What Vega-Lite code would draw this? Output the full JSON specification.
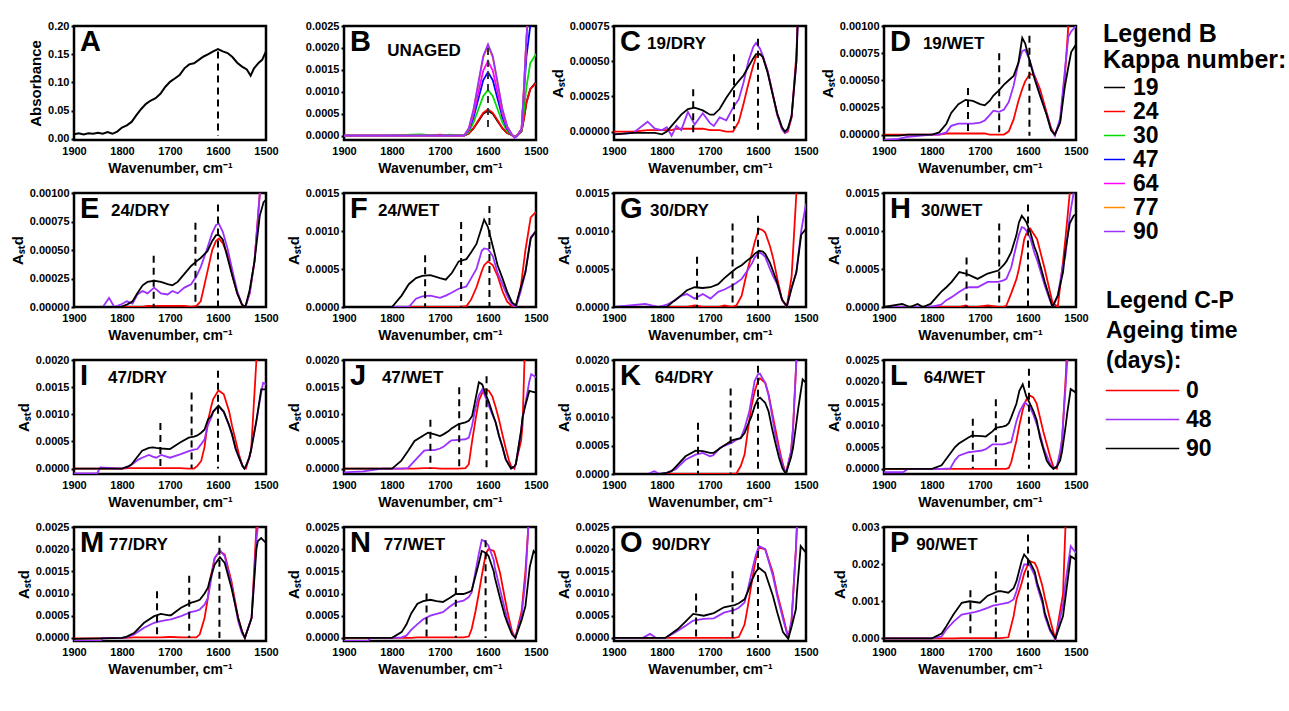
{
"$schema":"https://vega.github.io/schema/vega-lite/v6.json",
"background":"white",
"padding":{"left":8,"top":18,"right":0,"bottom":0},
"spacing":{"row":53,"column":78},
"bounds":"flush",
"columns":4,
"datasets":{
"a":[{"w":1900,"v":0.008},{"w":1890,"v":0.010},{"w":1880,"v":0.008},{"w":1870,"v":0.010},{"w":1860,"v":0.009},{"w":1850,"v":0.011},{"w":1840,"v":0.009},{"w":1830,"v":0.012},{"w":1820,"v":0.009},{"w":1810,"v":0.013},{"w":1800,"v":0.02},{"w":1790,"v":0.024},{"w":1780,"v":0.03},{"w":1770,"v":0.042},{"w":1760,"v":0.053},{"w":1750,"v":0.062},{"w":1740,"v":0.068},{"w":1730,"v":0.072},{"w":1720,"v":0.08},{"w":1710,"v":0.092},{"w":1700,"v":0.101},{"w":1690,"v":0.107},{"w":1680,"v":0.113},{"w":1670,"v":0.125},{"w":1660,"v":0.132},{"w":1650,"v":0.134},{"w":1640,"v":0.14},{"w":1630,"v":0.146},{"w":1620,"v":0.15},{"w":1610,"v":0.155},{"w":1600,"v":0.159},{"w":1590,"v":0.155},{"w":1580,"v":0.152},{"w":1570,"v":0.145},{"w":1560,"v":0.135},{"w":1550,"v":0.128},{"w":1540,"v":0.123},{"w":1532,"v":0.112},{"w":1525,"v":0.125},{"w":1515,"v":0.135},{"w":1508,"v":0.14},{"w":1500,"v":0.155}],
"b":[
{"w":1900,"19":0,"24":0,"30":0,"47":0,"64":0,"77":0,"90":0},
{"w":1850,"19":0,"24":0,"30":0,"47":0,"64":0,"77":0,"90":0},
{"w":1800,"19":0,"24":0,"30":0,"47":0,"64":0,"77":0,"90":0},
{"w":1760,"19":0,"24":0,"30":2e-5,"47":0,"64":0,"77":0,"90":0},
{"w":1740,"19":0,"24":1e-5,"30":3e-5,"47":0,"64":0,"77":0,"90":0},
{"w":1720,"19":0,"24":0,"30":1e-5,"47":0,"64":0,"77":0,"90":0},
{"w":1700,"19":0,"24":2e-5,"30":0,"47":0,"64":0,"77":0,"90":0},
{"w":1680,"19":0,"24":0,"30":2e-5,"47":0,"64":0,"77":0,"90":0},
{"w":1650,"19":0,"24":0,"30":0,"47":0,"64":0,"77":0,"90":0},
{"w":1640,"19":5e-5,"24":5e-5,"30":8e-5,"47":12e-5,"64":14e-5,"77":16e-5,"90":17e-5},
{"w":1630,"19":17e-5,"24":17e-5,"30":30e-5,"47":42e-5,"64":49e-5,"77":59e-5,"90":60e-5},
{"w":1620,"19":33e-5,"24":35e-5,"30":60e-5,"47":84e-5,"64":99e-5,"77":119e-5,"90":121e-5},
{"w":1610,"19":50e-5,"24":52e-5,"30":90e-5,"47":126e-5,"64":148e-5,"77":178e-5,"90":181e-5},
{"w":1600,"19":57e-5,"24":60e-5,"30":104e-5,"47":145e-5,"64":170e-5,"77":205e-5,"90":208e-5},
{"w":1590,"19":50e-5,"24":52e-5,"30":90e-5,"47":126e-5,"64":148e-5,"77":178e-5,"90":181e-5},
{"w":1580,"19":33e-5,"24":35e-5,"30":60e-5,"47":84e-5,"64":99e-5,"77":119e-5,"90":121e-5},
{"w":1570,"19":17e-5,"24":17e-5,"30":30e-5,"47":42e-5,"64":49e-5,"77":59e-5,"90":60e-5},
{"w":1560,"19":6e-5,"24":6e-5,"30":10e-5,"47":15e-5,"64":17e-5,"77":21e-5,"90":21e-5},
{"w":1550,"19":1e-5,"24":1e-5,"30":1e-5,"47":1e-5,"64":2e-5,"77":2e-5,"90":2e-5},
{"w":1545,"19":-3e-5,"24":-2e-5,"30":-3e-5,"47":-3e-5,"64":-3e-5,"77":-4e-5,"90":-5e-5},
{"w":1540,"19":0,"24":0,"30":0,"47":-1e-5,"64":-1e-5,"77":-1e-5,"90":-2e-5},
{"w":1530,"19":10e-5,"24":10e-5,"30":12e-5,"47":15e-5,"64":15e-5,"77":15e-5,"90":15e-5},
{"w":1525,"19":40e-5,"24":40e-5,"30":60e-5,"47":100e-5,"64":110e-5,"77":110e-5,"90":110e-5},
{"w":1520,"19":75e-5,"24":75e-5,"30":110e-5,"47":180e-5,"64":220e-5,"77":220e-5,"90":220e-5},
{"w":1512,"19":106e-5,"24":106e-5,"30":165e-5,"47":250e-5,"64":350e-5,"77":350e-5,"90":350e-5},
{"w":1500,"19":122e-5,"24":120e-5,"30":186e-5,"47":400e-5,"64":500e-5,"77":500e-5,"90":500e-5}],
"s":[
{"p":"C","w":1900,"0":0,"48":-2e-5,"90":-2e-5},{"p":"C","w":1860,"0":0,"48":-1e-5,"90":-1e-5},{"p":"C","w":1830,"0":1e-5,"48":7e-5,"90":-1e-5},{"p":"C","w":1815,"0":1e-5,"48":2e-5,"90":-1e-5},{"p":"C","w":1800,"0":1e-5,"48":1e-5,"90":-2e-5},{"p":"C","w":1790,"0":1e-5,"48":3e-5,"90":0},{"p":"C","w":1780,"0":1e-5,"48":-3e-5,"90":4e-5},{"p":"C","w":1770,"0":2e-5,"48":4e-5,"90":8e-5},{"p":"C","w":1760,"0":2e-5,"48":1e-5,"90":12e-5},{"p":"C","w":1746,"0":2e-5,"48":14e-5,"90":16e-5},{"p":"C","w":1732,"0":2e-5,"48":5e-5,"90":17e-5},{"p":"C","w":1715,"0":2e-5,"48":13e-5,"90":15e-5},{"p":"C","w":1700,"0":1e-5,"48":6e-5,"90":12e-5},{"p":"C","w":1692,"0":1e-5,"48":4e-5,"90":12e-5},{"p":"C","w":1680,"0":1e-5,"48":10e-5,"90":16e-5},{"p":"C","w":1666,"0":0,"48":8e-5,"90":24e-5},{"p":"C","w":1652,"0":0,"48":17e-5,"90":31e-5},{"p":"C","w":1640,"0":7e-5,"48":23e-5,"90":36e-5},{"p":"C","w":1630,"0":20e-5,"48":35e-5,"90":40e-5},{"p":"C","w":1620,"0":34e-5,"48":50e-5,"90":46e-5},{"p":"C","w":1610,"0":47e-5,"48":60e-5,"90":52e-5},{"p":"C","w":1604,"0":53e-5,"48":63e-5,"90":55e-5},{"p":"C","w":1596,"0":55e-5,"48":59e-5,"90":55e-5},{"p":"C","w":1590,"0":53e-5,"48":54e-5,"90":53e-5},{"p":"C","w":1580,"0":43e-5,"48":43e-5,"90":42e-5},{"p":"C","w":1570,"0":28e-5,"48":28e-5,"90":27e-5},{"p":"C","w":1560,"0":12e-5,"48":12e-5,"90":13e-5},{"p":"C","w":1550,"0":2e-5,"48":2e-5,"90":3e-5},{"p":"C","w":1544,"0":-1e-5,"48":-1e-5,"90":0},{"p":"C","w":1538,"0":0,"48":1e-5,"90":2e-5},{"p":"C","w":1530,"0":10e-5,"48":11e-5,"90":11e-5},{"p":"C","w":1520,"0":55e-5,"48":50e-5,"90":50e-5},{"p":"C","w":1510,"0":150e-5,"48":150e-5,"90":150e-5},{"p":"C","w":1500,"0":300e-5,"48":300e-5,"90":300e-5},
{"p":"D","w":1900,"0":0,"48":-5e-5,"90":-1e-5},{"p":"D","w":1870,"0":0,"48":-4e-5,"90":-1e-5},{"p":"D","w":1850,"0":0,"48":-2e-5,"90":0},{"p":"D","w":1800,"0":0,"48":0,"90":0},{"p":"D","w":1785,"0":0,"48":0,"90":2e-5},{"p":"D","w":1770,"0":1e-5,"48":2e-5,"90":10e-5},{"p":"D","w":1760,"0":1e-5,"48":8e-5,"90":20e-5},{"p":"D","w":1745,"0":1e-5,"48":10e-5,"90":28e-5},{"p":"D","w":1730,"0":1e-5,"48":10e-5,"90":32e-5},{"p":"D","w":1715,"0":1e-5,"48":10e-5,"90":31e-5},{"p":"D","w":1700,"0":1e-5,"48":11e-5,"90":28e-5},{"p":"D","w":1690,"0":1e-5,"48":13e-5,"90":27e-5},{"p":"D","w":1680,"0":0,"48":18e-5,"90":31e-5},{"p":"D","w":1672,"0":0,"48":22e-5,"90":36e-5},{"p":"D","w":1660,"0":0,"48":21e-5,"90":41e-5},{"p":"D","w":1650,"0":0,"48":23e-5,"90":46e-5},{"p":"D","w":1640,"0":3e-5,"48":30e-5,"90":50e-5},{"p":"D","w":1630,"0":14e-5,"48":45e-5,"90":54e-5},{"p":"D","w":1620,"0":31e-5,"48":66e-5,"90":66e-5},{"p":"D","w":1612,"0":42e-5,"48":77e-5,"90":89e-5},{"p":"D","w":1606,"0":49e-5,"48":78e-5,"90":84e-5},{"p":"D","w":1596,"0":56e-5,"48":68e-5,"90":67e-5},{"p":"D","w":1586,"0":54e-5,"48":53e-5,"90":51e-5},{"p":"D","w":1575,"0":42e-5,"48":37e-5,"90":36e-5},{"p":"D","w":1561,"0":20e-5,"48":18e-5,"90":18e-5},{"p":"D","w":1552,"0":6e-5,"48":5e-5,"90":4e-5},{"p":"D","w":1544,"0":0,"48":-1e-5,"90":0},{"p":"D","w":1533,"0":12e-5,"48":15e-5,"90":11e-5},{"p":"D","w":1523,"0":55e-5,"48":60e-5,"90":45e-5},{"p":"D","w":1516,"0":100e-5,"48":90e-5,"90":62e-5},{"p":"D","w":1510,"0":200e-5,"48":95e-5,"90":76e-5},{"p":"D","w":1500,"0":400e-5,"48":100e-5,"90":83e-5},
{"p":"E","w":1900,"0":0,"48":0,"90":0},{"p":"E","w":1840,"0":0,"48":0,"90":0},{"p":"E","w":1827,"0":0,"48":8e-5,"90":0},{"p":"E","w":1816,"0":0,"48":0,"90":0},{"p":"E","w":1803,"0":0,"48":2e-5,"90":0},{"p":"E","w":1790,"0":0,"48":5e-5,"90":2e-5},{"p":"E","w":1778,"0":0,"48":3e-5,"90":5e-5},{"p":"E","w":1768,"0":0,"48":11e-5,"90":12e-5},{"p":"E","w":1757,"0":0,"48":14e-5,"90":19e-5},{"p":"E","w":1747,"0":1e-5,"48":12e-5,"90":22e-5},{"p":"E","w":1733,"0":1e-5,"48":17e-5,"90":23e-5},{"p":"E","w":1719,"0":1e-5,"48":12e-5,"90":22e-5},{"p":"E","w":1705,"0":1e-5,"48":11e-5,"90":20e-5},{"p":"E","w":1695,"0":1e-5,"48":14e-5,"90":19e-5},{"p":"E","w":1684,"0":1e-5,"48":12e-5,"90":22e-5},{"p":"E","w":1670,"0":1e-5,"48":17e-5,"90":29e-5},{"p":"E","w":1656,"0":0,"48":20e-5,"90":36e-5},{"p":"E","w":1645,"0":1e-5,"48":27e-5,"90":40e-5},{"p":"E","w":1636,"0":5e-5,"48":35e-5,"90":43e-5},{"p":"E","w":1622,"0":31e-5,"48":52e-5,"90":49e-5},{"p":"E","w":1612,"0":50e-5,"48":65e-5,"90":58e-5},{"p":"E","w":1604,"0":58e-5,"48":72e-5,"90":63e-5},{"p":"E","w":1598,"0":60e-5,"48":73e-5,"90":63e-5},{"p":"E","w":1590,"0":56e-5,"48":66e-5,"90":59e-5},{"p":"E","w":1580,"0":46e-5,"48":51e-5,"90":43e-5},{"p":"E","w":1570,"0":28e-5,"48":32e-5,"90":27e-5},{"p":"E","w":1560,"0":12e-5,"48":14e-5,"90":12e-5},{"p":"E","w":1550,"0":2e-5,"48":2e-5,"90":2e-5},{"p":"E","w":1543,"0":0,"48":0,"90":0},{"p":"E","w":1534,"0":12e-5,"48":12e-5,"90":15e-5},{"p":"E","w":1524,"0":40e-5,"48":40e-5,"90":40e-5},{"p":"E","w":1513,"0":99e-5,"48":99e-5,"90":80e-5},{"p":"E","w":1505,"0":200e-5,"48":200e-5,"90":92e-5},{"p":"E","w":1500,"0":300e-5,"48":300e-5,"90":94e-5},
{"p":"F","w":1900,"0":0,"48":0,"90":0},{"p":"F","w":1850,"0":0,"48":0,"90":0},{"p":"F","w":1800,"0":0,"48":0,"90":0},{"p":"F","w":1780,"0":0,"48":0,"90":15e-5},{"p":"F","w":1765,"0":0,"48":0,"90":30e-5},{"p":"F","w":1750,"0":0,"48":11e-5,"90":38e-5},{"p":"F","w":1737,"0":0,"48":14e-5,"90":41e-5},{"p":"F","w":1720,"0":0,"48":15e-5,"90":42e-5},{"p":"F","w":1700,"0":0,"48":12e-5,"90":38e-5},{"p":"F","w":1688,"0":0,"48":15e-5,"90":36e-5},{"p":"F","w":1675,"0":0,"48":19e-5,"90":45e-5},{"p":"F","w":1661,"0":0,"48":24e-5,"90":60e-5},{"p":"F","w":1645,"0":1e-5,"48":27e-5,"90":63e-5},{"p":"F","w":1635,"0":10e-5,"48":38e-5,"90":72e-5},{"p":"F","w":1624,"0":26e-5,"48":50e-5,"90":83e-5},{"p":"F","w":1613,"0":47e-5,"48":74e-5,"90":105e-5},{"p":"F","w":1608,"0":55e-5,"48":77e-5,"90":115e-5},{"p":"F","w":1600,"0":60e-5,"48":76e-5,"90":105e-5},{"p":"F","w":1590,"0":55e-5,"48":67e-5,"90":80e-5},{"p":"F","w":1580,"0":41e-5,"48":45e-5,"90":55e-5},{"p":"F","w":1570,"0":21e-5,"48":30e-5,"90":38e-5},{"p":"F","w":1560,"0":7e-5,"48":15e-5,"90":20e-5},{"p":"F","w":1550,"0":1e-5,"48":3e-5,"90":6e-5},{"p":"F","w":1542,"0":0,"48":0,"90":2e-5},{"p":"F","w":1532,"0":25e-5,"48":20e-5,"90":25e-5},{"p":"F","w":1522,"0":75e-5,"48":46e-5,"90":46e-5},{"p":"F","w":1511,"0":118e-5,"48":92e-5,"90":90e-5},{"p":"F","w":1500,"0":125e-5,"48":100e-5,"90":100e-5},
{"p":"G","w":1900,"0":0,"48":0,"90":0},{"p":"G","w":1867,"0":0,"48":2e-5,"90":0},{"p":"G","w":1835,"0":0,"48":4e-5,"90":0},{"p":"G","w":1808,"0":0,"48":0,"90":0},{"p":"G","w":1790,"0":0,"48":3e-5,"90":0},{"p":"G","w":1775,"0":0,"48":8e-5,"90":8e-5},{"p":"G","w":1759,"0":0,"48":15e-5,"90":16e-5},{"p":"G","w":1748,"0":0,"48":17e-5,"90":22e-5},{"p":"G","w":1732,"0":2e-5,"48":11e-5,"90":26e-5},{"p":"G","w":1715,"0":0,"48":17e-5,"90":25e-5},{"p":"G","w":1699,"0":0,"48":11e-5,"90":26e-5},{"p":"G","w":1683,"0":0,"48":20e-5,"90":30e-5},{"p":"G","w":1670,"0":2e-5,"48":23e-5,"90":38e-5},{"p":"G","w":1655,"0":0,"48":28e-5,"90":46e-5},{"p":"G","w":1645,"0":2e-5,"48":32e-5,"90":51e-5},{"p":"G","w":1634,"0":15e-5,"48":37e-5,"90":55e-5},{"p":"G","w":1623,"0":46e-5,"48":47e-5,"90":61e-5},{"p":"G","w":1612,"0":72e-5,"48":58e-5,"90":66e-5},{"p":"G","w":1607,"0":85e-5,"48":65e-5,"90":70e-5},{"p":"G","w":1598,"0":103e-5,"48":72e-5,"90":74e-5},{"p":"G","w":1590,"0":101e-5,"48":69e-5,"90":73e-5},{"p":"G","w":1585,"0":98e-5,"48":66e-5,"90":70e-5},{"p":"G","w":1575,"0":80e-5,"48":50e-5,"90":58e-5},{"p":"G","w":1568,"0":63e-5,"48":40e-5,"90":46e-5},{"p":"G","w":1560,"0":38e-5,"48":30e-5,"90":32e-5},{"p":"G","w":1550,"0":9e-5,"48":10e-5,"90":10e-5},{"p":"G","w":1540,"0":0,"48":0,"90":1e-5},{"p":"G","w":1530,"0":40e-5,"48":25e-5,"90":25e-5},{"p":"G","w":1520,"0":150e-5,"48":46e-5,"90":46e-5},{"p":"G","w":1510,"0":300e-5,"48":100e-5,"90":95e-5},{"p":"G","w":1500,"0":400e-5,"48":136e-5,"90":103e-5},
{"p":"H","w":1900,"0":0,"48":0,"90":0},{"p":"H","w":1862,"0":0,"48":0,"90":4e-5},{"p":"H","w":1846,"0":0,"48":0,"90":0},{"p":"H","w":1830,"0":0,"48":0,"90":4e-5},{"p":"H","w":1819,"0":0,"48":0,"90":0},{"p":"H","w":1803,"0":0,"48":0,"90":4e-5},{"p":"H","w":1781,"0":0,"48":3e-5,"90":20e-5},{"p":"H","w":1770,"0":0,"48":9e-5,"90":26e-5},{"p":"H","w":1759,"0":0,"48":13e-5,"90":33e-5},{"p":"H","w":1743,"0":0,"48":20e-5,"90":46e-5},{"p":"H","w":1730,"0":2e-5,"48":25e-5,"90":44e-5},{"p":"H","w":1722,"0":0,"48":26e-5,"90":42e-5},{"p":"H","w":1705,"0":0,"48":26e-5,"90":37e-5},{"p":"H","w":1684,"0":2e-5,"48":33e-5,"90":44e-5},{"p":"H","w":1662,"0":0,"48":33e-5,"90":48e-5},{"p":"H","w":1651,"0":0,"48":35e-5,"90":55e-5},{"p":"H","w":1645,"0":2e-5,"48":37e-5,"90":60e-5},{"p":"H","w":1635,"0":18e-5,"48":52e-5,"90":72e-5},{"p":"H","w":1624,"0":37e-5,"48":82e-5,"90":95e-5},{"p":"H","w":1619,"0":50e-5,"48":95e-5,"90":111e-5},{"p":"H","w":1613,"0":70e-5,"48":105e-5,"90":120e-5},{"p":"H","w":1608,"0":89e-5,"48":104e-5,"90":116e-5},{"p":"H","w":1603,"0":97e-5,"48":100e-5,"90":111e-5},{"p":"H","w":1595,"0":103e-5,"48":90e-5,"90":98e-5},{"p":"H","w":1587,"0":95e-5,"48":72e-5,"90":80e-5},{"p":"H","w":1581,"0":89e-5,"48":62e-5,"90":70e-5},{"p":"H","w":1565,"0":50e-5,"48":28e-5,"90":33e-5},{"p":"H","w":1556,"0":25e-5,"48":12e-5,"90":14e-5},{"p":"H","w":1549,"0":6e-5,"48":0,"90":0},{"p":"H","w":1538,"0":0,"48":15e-5,"90":15e-5},{"p":"H","w":1527,"0":60e-5,"48":55e-5,"90":46e-5},{"p":"H","w":1522,"0":90e-5,"48":68e-5,"90":75e-5},{"p":"H","w":1513,"0":150e-5,"48":120e-5,"90":110e-5},{"p":"H","w":1505,"0":250e-5,"48":150e-5,"90":120e-5},{"p":"H","w":1500,"0":300e-5,"48":170e-5,"90":122e-5},
{"p":"I","w":1900,"0":0,"48":-9e-5,"90":0},{"p":"I","w":1852,"0":0,"48":-9e-5,"90":0},{"p":"I","w":1845,"0":0,"48":2e-5,"90":0},{"p":"I","w":1800,"0":0,"48":0,"90":0},{"p":"I","w":1787,"0":1e-5,"48":3e-5,"90":4e-5},{"p":"I","w":1780,"0":1e-5,"48":7e-5,"90":8e-5},{"p":"I","w":1765,"0":1e-5,"48":17e-5,"90":25e-5},{"p":"I","w":1758,"0":1e-5,"48":20e-5,"90":33e-5},{"p":"I","w":1744,"0":1e-5,"48":25e-5,"90":38e-5},{"p":"I","w":1736,"0":1e-5,"48":22e-5,"90":39e-5},{"p":"I","w":1729,"0":1e-5,"48":20e-5,"90":38e-5},{"p":"I","w":1718,"0":1e-5,"48":25e-5,"90":37e-5},{"p":"I","w":1700,"0":1e-5,"48":20e-5,"90":36e-5},{"p":"I","w":1679,"0":1e-5,"48":26e-5,"90":48e-5},{"p":"I","w":1661,"0":0,"48":32e-5,"90":57e-5},{"p":"I","w":1650,"0":0,"48":35e-5,"90":59e-5},{"p":"I","w":1643,"0":5e-5,"48":36e-5,"90":61e-5},{"p":"I","w":1635,"0":14e-5,"48":45e-5,"90":66e-5},{"p":"I","w":1628,"0":40e-5,"48":54e-5,"90":72e-5},{"p":"I","w":1621,"0":88e-5,"48":80e-5,"90":90e-5},{"p":"I","w":1614,"0":115e-5,"48":94e-5,"90":97e-5},{"p":"I","w":1610,"0":128e-5,"48":105e-5,"90":105e-5},{"p":"I","w":1599,"0":144e-5,"48":115e-5,"90":116e-5},{"p":"I","w":1588,"0":137e-5,"48":104e-5,"90":105e-5},{"p":"I","w":1577,"0":106e-5,"48":80e-5,"90":80e-5},{"p":"I","w":1571,"0":80e-5,"48":63e-5,"90":64e-5},{"p":"I","w":1563,"0":51e-5,"48":35e-5,"90":36e-5},{"p":"I","w":1556,"0":25e-5,"48":20e-5,"90":20e-5},{"p":"I","w":1549,"0":5e-5,"48":5e-5,"90":5e-5},{"p":"I","w":1545,"0":1e-5,"48":0,"90":0},{"p":"I","w":1542,"0":0,"48":4e-5,"90":4e-5},{"p":"I","w":1535,"0":20e-5,"48":20e-5,"90":20e-5},{"p":"I","w":1531,"0":33e-5,"48":35e-5,"90":35e-5},{"p":"I","w":1520,"0":200e-5,"48":88e-5,"90":88e-5},{"p":"I","w":1510,"0":400e-5,"48":140e-5,"90":146e-5},{"p":"I","w":1506,"0":500e-5,"48":158e-5,"90":146e-5},{"p":"I","w":1500,"0":600e-5,"48":155e-5,"90":146e-5},
{"p":"J","w":1900,"0":0,"48":-7e-5,"90":0},{"p":"J","w":1860,"0":0,"48":-5e-5,"90":0},{"p":"J","w":1820,"0":0,"48":0,"90":0},{"p":"J","w":1800,"0":0,"48":0,"90":0},{"p":"J","w":1781,"0":0,"48":0,"90":14e-5},{"p":"J","w":1767,"0":0,"48":1e-5,"90":32e-5},{"p":"J","w":1753,"0":0,"48":14e-5,"90":51e-5},{"p":"J","w":1733,"0":1e-5,"48":33e-5,"90":62e-5},{"p":"J","w":1725,"0":1e-5,"48":34e-5,"90":66e-5},{"p":"J","w":1711,"0":1e-5,"48":34e-5,"90":63e-5},{"p":"J","w":1700,"0":0,"48":37e-5,"90":60e-5},{"p":"J","w":1693,"0":0,"48":40e-5,"90":63e-5},{"p":"J","w":1682,"0":0,"48":48e-5,"90":69e-5},{"p":"J","w":1676,"0":0,"48":52e-5,"90":74e-5},{"p":"J","w":1661,"0":0,"48":53e-5,"90":82e-5},{"p":"J","w":1647,"0":1e-5,"48":54e-5,"90":85e-5},{"p":"J","w":1640,"0":8e-5,"48":57e-5,"90":88e-5},{"p":"J","w":1633,"0":51e-5,"48":80e-5,"90":97e-5},{"p":"J","w":1626,"0":90e-5,"48":112e-5,"90":128e-5},{"p":"J","w":1619,"0":125e-5,"48":135e-5,"90":159e-5},{"p":"J","w":1612,"0":140e-5,"48":146e-5,"90":155e-5},{"p":"J","w":1605,"0":146e-5,"48":131e-5,"90":137e-5},{"p":"J","w":1598,"0":143e-5,"48":115e-5,"90":122e-5},{"p":"J","w":1591,"0":133e-5,"48":100e-5,"90":103e-5},{"p":"J","w":1584,"0":113e-5,"48":85e-5,"90":85e-5},{"p":"J","w":1577,"0":90e-5,"48":60e-5,"90":60e-5},{"p":"J","w":1570,"0":63e-5,"48":40e-5,"90":40e-5},{"p":"J","w":1563,"0":37e-5,"48":17e-5,"90":17e-5},{"p":"J","w":1556,"0":14e-5,"48":6e-5,"90":6e-5},{"p":"J","w":1552,"0":5e-5,"48":0,"90":0},{"p":"J","w":1545,"0":0,"48":3e-5,"90":4e-5},{"p":"J","w":1542,"0":10e-5,"48":8e-5,"90":8e-5},{"p":"J","w":1531,"0":51e-5,"48":70e-5,"90":70e-5},{"p":"J","w":1528,"0":80e-5,"48":94e-5,"90":94e-5},{"p":"J","w":1524,"0":200e-5,"48":110e-5,"90":110e-5},{"p":"J","w":1514,"0":400e-5,"48":160e-5,"90":143e-5},{"p":"J","w":1510,"0":500e-5,"48":174e-5,"90":142e-5},{"p":"J","w":1500,"0":600e-5,"48":168e-5,"90":140e-5},
{"p":"K","w":1900,"0":0,"48":0,"90":0},{"p":"K","w":1830,"0":0,"48":0,"90":0},{"p":"K","w":1816,"0":0,"48":5e-5,"90":0},{"p":"K","w":1805,"0":0,"48":0,"90":0},{"p":"K","w":1790,"0":0,"48":2e-5,"90":2e-5},{"p":"K","w":1780,"0":0,"48":6e-5,"90":5e-5},{"p":"K","w":1772,"0":0,"48":8e-5,"90":12e-5},{"p":"K","w":1751,"0":0,"48":25e-5,"90":31e-5},{"p":"K","w":1730,"0":0,"48":34e-5,"90":41e-5},{"p":"K","w":1715,"0":0,"48":37e-5,"90":40e-5},{"p":"K","w":1700,"0":0,"48":31e-5,"90":37e-5},{"p":"K","w":1693,"0":0,"48":33e-5,"90":37e-5},{"p":"K","w":1679,"0":0,"48":46e-5,"90":45e-5},{"p":"K","w":1672,"0":0,"48":49e-5,"90":49e-5},{"p":"K","w":1654,"0":0,"48":55e-5,"90":59e-5},{"p":"K","w":1645,"0":1e-5,"48":60e-5,"90":61e-5},{"p":"K","w":1636,"0":14e-5,"48":63e-5,"90":63e-5},{"p":"K","w":1628,"0":34e-5,"48":80e-5,"90":72e-5},{"p":"K","w":1618,"0":95e-5,"48":110e-5,"90":93e-5},{"p":"K","w":1614,"0":117e-5,"48":130e-5,"90":100e-5},{"p":"K","w":1607,"0":145e-5,"48":163e-5,"90":119e-5},{"p":"K","w":1600,"0":163e-5,"48":175e-5,"90":132e-5},{"p":"K","w":1596,"0":168e-5,"48":176e-5,"90":134e-5},{"p":"K","w":1585,"0":160e-5,"48":160e-5,"90":125e-5},{"p":"K","w":1578,"0":140e-5,"48":138e-5,"90":110e-5},{"p":"K","w":1571,"0":110e-5,"48":104e-5,"90":81e-5},{"p":"K","w":1564,"0":80e-5,"48":70e-5,"90":55e-5},{"p":"K","w":1556,"0":46e-5,"48":40e-5,"90":28e-5},{"p":"K","w":1549,"0":20e-5,"48":16e-5,"90":10e-5},{"p":"K","w":1542,"0":0,"48":0,"90":0},{"p":"K","w":1531,"0":40e-5,"48":40e-5,"90":30e-5},{"p":"K","w":1527,"0":80e-5,"48":80e-5,"90":46e-5},{"p":"K","w":1520,"0":200e-5,"48":200e-5,"90":90e-5},{"p":"K","w":1516,"0":300e-5,"48":300e-5,"90":116e-5},{"p":"K","w":1507,"0":400e-5,"48":400e-5,"90":166e-5},{"p":"K","w":1500,"0":500e-5,"48":500e-5,"90":160e-5},
{"p":"L","w":1900,"0":0,"48":-8e-5,"90":0},{"p":"L","w":1860,"0":0,"48":-8e-5,"90":0},{"p":"L","w":1850,"0":0,"48":0,"90":0},{"p":"L","w":1800,"0":0,"48":0,"90":0},{"p":"L","w":1780,"0":0,"48":0,"90":8e-5},{"p":"L","w":1762,"0":0,"48":1e-5,"90":35e-5},{"p":"L","w":1752,"0":0,"48":20e-5,"90":50e-5},{"p":"L","w":1744,"0":0,"48":30e-5,"90":58e-5},{"p":"L","w":1724,"0":0,"48":38e-5,"90":72e-5},{"p":"L","w":1717,"0":0,"48":39e-5,"90":76e-5},{"p":"L","w":1696,"0":0,"48":42e-5,"90":75e-5},{"p":"L","w":1688,"0":0,"48":45e-5,"90":74e-5},{"p":"L","w":1674,"0":0,"48":56e-5,"90":86e-5},{"p":"L","w":1667,"0":0,"48":56e-5,"90":94e-5},{"p":"L","w":1653,"0":0,"48":56e-5,"90":97e-5},{"p":"L","w":1646,"0":0,"48":58e-5,"90":99e-5},{"p":"L","w":1640,"0":2e-5,"48":60e-5,"90":105e-5},{"p":"L","w":1635,"0":15e-5,"48":61e-5,"90":118e-5},{"p":"L","w":1624,"0":65e-5,"48":110e-5,"90":150e-5},{"p":"L","w":1618,"0":100e-5,"48":130e-5,"90":179e-5},{"p":"L","w":1611,"0":135e-5,"48":145e-5,"90":194e-5},{"p":"L","w":1607,"0":150e-5,"48":152e-5,"90":180e-5},{"p":"L","w":1604,"0":158e-5,"48":150e-5,"90":168e-5},{"p":"L","w":1596,"0":168e-5,"48":141e-5,"90":150e-5},{"p":"L","w":1589,"0":164e-5,"48":125e-5,"90":133e-5},{"p":"L","w":1582,"0":150e-5,"48":103e-5,"90":112e-5},{"p":"L","w":1575,"0":118e-5,"48":80e-5,"90":72e-5},{"p":"L","w":1568,"0":85e-5,"48":50e-5,"90":45e-5},{"p":"L","w":1561,"0":57e-5,"48":30e-5,"90":19e-5},{"p":"L","w":1554,"0":28e-5,"48":12e-5,"90":7e-5},{"p":"L","w":1547,"0":4e-5,"48":0,"90":0},{"p":"L","w":1540,"0":0,"48":5e-5,"90":5e-5},{"p":"L","w":1533,"0":35e-5,"48":40e-5,"90":19e-5},{"p":"L","w":1529,"0":65e-5,"48":70e-5,"90":40e-5},{"p":"L","w":1521,"0":220e-5,"48":200e-5,"90":103e-5},{"p":"L","w":1518,"0":300e-5,"48":250e-5,"90":130e-5},{"p":"L","w":1511,"0":400e-5,"48":400e-5,"90":183e-5},{"p":"L","w":1500,"0":600e-5,"48":600e-5,"90":175e-5},
{"p":"M","w":1900,"0":-1e-5,"48":-7e-5,"90":-2e-5},{"p":"M","w":1844,"0":-1e-5,"48":-7e-5,"90":-1e-5},{"p":"M","w":1840,"0":0,"48":0,"90":-1e-5},{"p":"M","w":1800,"0":0,"48":0,"90":0},{"p":"M","w":1790,"0":0,"48":1e-5,"90":3e-5},{"p":"M","w":1775,"0":1e-5,"48":8e-5,"90":11e-5},{"p":"M","w":1754,"0":1e-5,"48":23e-5,"90":34e-5},{"p":"M","w":1733,"0":1e-5,"48":34e-5,"90":49e-5},{"p":"M","w":1719,"0":1e-5,"48":38e-5,"90":54e-5},{"p":"M","w":1702,"0":2e-5,"48":41e-5,"90":51e-5},{"p":"M","w":1698,"0":2e-5,"48":42e-5,"90":51e-5},{"p":"M","w":1677,"0":1e-5,"48":49e-5,"90":68e-5},{"p":"M","w":1657,"0":1e-5,"48":58e-5,"90":79e-5},{"p":"M","w":1645,"0":1e-5,"48":61e-5,"90":83e-5},{"p":"M","w":1638,"0":8e-5,"48":64e-5,"90":86e-5},{"p":"M","w":1628,"0":45e-5,"48":75e-5,"90":100e-5},{"p":"M","w":1621,"0":90e-5,"48":90e-5,"90":113e-5},{"p":"M","w":1617,"0":128e-5,"48":115e-5,"90":130e-5},{"p":"M","w":1607,"0":180e-5,"48":180e-5,"90":165e-5},{"p":"M","w":1596,"0":195e-5,"48":197e-5,"90":182e-5},{"p":"M","w":1586,"0":188e-5,"48":184e-5,"90":169e-5},{"p":"M","w":1572,"0":128e-5,"48":120e-5,"90":113e-5},{"p":"M","w":1558,"0":45e-5,"48":38e-5,"90":45e-5},{"p":"M","w":1550,"0":15e-5,"48":10e-5,"90":15e-5},{"p":"M","w":1544,"0":0,"48":0,"90":0},{"p":"M","w":1530,"0":45e-5,"48":45e-5,"90":45e-5},{"p":"M","w":1520,"0":250e-5,"48":220e-5,"90":200e-5},{"p":"M","w":1517,"0":300e-5,"48":250e-5,"90":218e-5},{"p":"M","w":1510,"0":400e-5,"48":400e-5,"90":225e-5},{"p":"M","w":1500,"0":500e-5,"48":500e-5,"90":214e-5},
{"p":"N","w":1900,"0":0,"48":-7e-5,"90":0},{"p":"N","w":1850,"0":0,"48":-7e-5,"90":0},{"p":"N","w":1845,"0":0,"48":0,"90":0},{"p":"N","w":1800,"0":0,"48":0,"90":0},{"p":"N","w":1780,"0":0,"48":1e-5,"90":13e-5},{"p":"N","w":1770,"0":0,"48":5e-5,"90":30e-5},{"p":"N","w":1760,"0":0,"48":18e-5,"90":55e-5},{"p":"N","w":1747,"0":1e-5,"48":31e-5,"90":77e-5},{"p":"N","w":1735,"0":1e-5,"48":42e-5,"90":83e-5},{"p":"N","w":1720,"0":1e-5,"48":50e-5,"90":86e-5},{"p":"N","w":1707,"0":1e-5,"48":54e-5,"90":83e-5},{"p":"N","w":1694,"0":1e-5,"48":58e-5,"90":81e-5},{"p":"N","w":1680,"0":1e-5,"48":70e-5,"90":90e-5},{"p":"N","w":1667,"0":1e-5,"48":80e-5,"90":99e-5},{"p":"N","w":1651,"0":1e-5,"48":84e-5,"90":99e-5},{"p":"N","w":1640,"0":3e-5,"48":92e-5,"90":103e-5},{"p":"N","w":1634,"0":20e-5,"48":103e-5,"90":107e-5},{"p":"N","w":1626,"0":60e-5,"48":150e-5,"90":140e-5},{"p":"N","w":1620,"0":95e-5,"48":185e-5,"90":165e-5},{"p":"N","w":1613,"0":140e-5,"48":221e-5,"90":196e-5},{"p":"N","w":1607,"0":175e-5,"48":218e-5,"90":193e-5},{"p":"N","w":1602,"0":195e-5,"48":212e-5,"90":189e-5},{"p":"N","w":1599,"0":200e-5,"48":208e-5,"90":185e-5},{"p":"N","w":1588,"0":196e-5,"48":175e-5,"90":150e-5},{"p":"N","w":1586,"0":190e-5,"48":160e-5,"90":137e-5},{"p":"N","w":1575,"0":147e-5,"48":110e-5,"90":90e-5},{"p":"N","w":1565,"0":90e-5,"48":65e-5,"90":50e-5},{"p":"N","w":1559,"0":57e-5,"48":40e-5,"90":32e-5},{"p":"N","w":1550,"0":15e-5,"48":10e-5,"90":8e-5},{"p":"N","w":1543,"0":0,"48":0,"90":0},{"p":"N","w":1530,"0":60e-5,"48":50e-5,"90":40e-5},{"p":"N","w":1522,"0":150e-5,"48":130e-5,"90":72e-5},{"p":"N","w":1516,"0":250e-5,"48":250e-5,"90":130e-5},{"p":"N","w":1513,"0":300e-5,"48":300e-5,"90":160e-5},{"p":"N","w":1505,"0":400e-5,"48":400e-5,"90":196e-5},{"p":"N","w":1500,"0":500e-5,"48":500e-5,"90":189e-5},
{"p":"O","w":1900,"0":0,"48":0,"90":0},{"p":"O","w":1840,"0":0,"48":0,"90":0},{"p":"O","w":1825,"0":0,"48":9e-5,"90":0},{"p":"O","w":1812,"0":0,"48":0,"90":0},{"p":"O","w":1793,"0":0,"48":0,"90":0},{"p":"O","w":1780,"0":0,"48":8e-5,"90":10e-5},{"p":"O","w":1767,"0":0,"48":16e-5,"90":20e-5},{"p":"O","w":1750,"0":0,"48":28e-5,"90":38e-5},{"p":"O","w":1735,"0":0,"48":39e-5,"90":54e-5},{"p":"O","w":1713,"0":0,"48":43e-5,"90":50e-5},{"p":"O","w":1692,"0":0,"48":44e-5,"90":56e-5},{"p":"O","w":1671,"0":0,"48":57e-5,"90":69e-5},{"p":"O","w":1649,"0":0,"48":63e-5,"90":74e-5},{"p":"O","w":1640,"0":2e-5,"48":68e-5,"90":78e-5},{"p":"O","w":1628,"0":30e-5,"48":80e-5,"90":87e-5},{"p":"O","w":1621,"0":72e-5,"48":110e-5,"90":105e-5},{"p":"O","w":1612,"0":132e-5,"48":154e-5,"90":132e-5},{"p":"O","w":1605,"0":175e-5,"48":185e-5,"90":148e-5},{"p":"O","w":1598,"0":203e-5,"48":207e-5,"90":158e-5},{"p":"O","w":1585,"0":200e-5,"48":200e-5,"90":147e-5},{"p":"O","w":1569,"0":147e-5,"48":140e-5,"90":95e-5},{"p":"O","w":1560,"0":100e-5,"48":95e-5,"90":58e-5},{"p":"O","w":1548,"0":50e-5,"48":43e-5,"90":13e-5},{"p":"O","w":1537,"0":0,"48":0,"90":-2e-5},{"p":"O","w":1530,"0":40e-5,"48":40e-5,"90":25e-5},{"p":"O","w":1521,"0":200e-5,"48":200e-5,"90":65e-5},{"p":"O","w":1519,"0":250e-5,"48":250e-5,"90":100e-5},{"p":"O","w":1511,"0":400e-5,"48":400e-5,"90":207e-5},{"p":"O","w":1500,"0":500e-5,"48":500e-5,"90":192e-5},
{"p":"P","w":1900,"0":0,"48":0,"90":0},{"p":"P","w":1850,"0":0,"48":0,"90":0},{"p":"P","w":1800,"0":0,"48":0,"90":0},{"p":"P","w":1780,"0":0,"48":5e-5,"90":13e-5},{"p":"P","w":1770,"0":0,"48":24e-5,"90":33e-5},{"p":"P","w":1755,"0":0,"48":45e-5,"90":65e-5},{"p":"P","w":1738,"0":1e-5,"48":64e-5,"90":96e-5},{"p":"P","w":1722,"0":1e-5,"48":68e-5,"90":100e-5},{"p":"P","w":1711,"0":1e-5,"48":71e-5,"90":98e-5},{"p":"P","w":1700,"0":1e-5,"48":75e-5,"90":96e-5},{"p":"P","w":1684,"0":1e-5,"48":82e-5,"90":115e-5},{"p":"P","w":1673,"0":1e-5,"48":88e-5,"90":121e-5},{"p":"P","w":1662,"0":1e-5,"48":91e-5,"90":127e-5},{"p":"P","w":1657,"0":1e-5,"48":92e-5,"90":127e-5},{"p":"P","w":1641,"0":3e-5,"48":96e-5,"90":123e-5},{"p":"P","w":1630,"0":60e-5,"48":105e-5,"90":135e-5},{"p":"P","w":1624,"0":105e-5,"48":127e-5,"90":154e-5},{"p":"P","w":1613,"0":150e-5,"48":180e-5,"90":210e-5},{"p":"P","w":1608,"0":175e-5,"48":199e-5,"90":226e-5},{"p":"P","w":1597,"0":208e-5,"48":199e-5,"90":208e-5},{"p":"P","w":1586,"0":203e-5,"48":170e-5,"90":180e-5},{"p":"P","w":1581,"0":190e-5,"48":141e-5,"90":150e-5},{"p":"P","w":1570,"0":141e-5,"48":95e-5,"90":105e-5},{"p":"P","w":1565,"0":110e-5,"48":60e-5,"90":69e-5},{"p":"P","w":1554,"0":51e-5,"48":20e-5,"90":25e-5},{"p":"P","w":1543,"0":-3e-5,"48":-3e-5,"90":0},{"p":"P","w":1527,"0":120e-5,"48":90e-5,"90":60e-5},{"p":"P","w":1522,"0":300e-5,"48":150e-5,"90":110e-5},{"p":"P","w":1511,"0":500e-5,"48":248e-5,"90":221e-5},{"p":"P","w":1500,"0":600e-5,"48":230e-5,"90":212e-5}],
"d":[
{"p":"A","w":1600,"y1":0.155,"y2":0.005},
{"p":"B","w":1600,"y1":0.002,"y2":0.0001},
{"p":"C","w":1735,"y1":30e-5,"y2":-2e-5},{"p":"C","w":1650,"y1":55e-5,"y2":2e-5},{"p":"C","w":1600,"y1":66e-5,"y2":-2e-5},
{"p":"D","w":1725,"y1":43e-5,"y2":-1e-5},{"p":"D","w":1660,"y1":75e-5,"y2":-1e-5},{"p":"D","w":1597,"y1":91e-5,"y2":-1e-5},
{"p":"E","w":1734,"y1":45e-5,"y2":0},{"p":"E","w":1647,"y1":74e-5,"y2":0},{"p":"E","w":1600,"y1":90e-5,"y2":0},
{"p":"F","w":1731,"y1":68e-5,"y2":0},{"p":"F","w":1656,"y1":112e-5,"y2":0},{"p":"F","w":1597,"y1":133e-5,"y2":0},
{"p":"G","w":1727,"y1":66e-5,"y2":0},{"p":"G","w":1653,"y1":110e-5,"y2":0},{"p":"G","w":1600,"y1":120e-5,"y2":0},
{"p":"H","w":1728,"y1":65e-5,"y2":0},{"p":"H","w":1660,"y1":110e-5,"y2":0},{"p":"H","w":1600,"y1":135e-5,"y2":0},
{"p":"I","w":1720,"y1":84e-5,"y2":0},{"p":"I","w":1655,"y1":140e-5,"y2":0},{"p":"I","w":1600,"y1":180e-5,"y2":0},
{"p":"J","w":1720,"y1":90e-5,"y2":0},{"p":"J","w":1660,"y1":150e-5,"y2":0},{"p":"J","w":1603,"y1":170e-5,"y2":0},
{"p":"K","w":1725,"y1":90e-5,"y2":0},{"p":"K","w":1657,"y1":150e-5,"y2":0},{"p":"K","w":1600,"y1":190e-5,"y2":0},
{"p":"L","w":1715,"y1":115e-5,"y2":0},{"p":"L","w":1667,"y1":160e-5,"y2":0},{"p":"L","w":1598,"y1":230e-5,"y2":0},
{"p":"M","w":1727,"y1":105e-5,"y2":0},{"p":"M","w":1660,"y1":140e-5,"y2":0},{"p":"M","w":1597,"y1":230e-5,"y2":0},
{"p":"N","w":1728,"y1":100e-5,"y2":0},{"p":"N","w":1667,"y1":140e-5,"y2":0},{"p":"N","w":1605,"y1":220e-5,"y2":0},
{"p":"O","w":1729,"y1":100e-5,"y2":0},{"p":"O","w":1653,"y1":150e-5,"y2":0},{"p":"O","w":1600,"y1":250e-5,"y2":0},
{"p":"P","w":1720,"y1":130e-5,"y2":0},{"p":"P","w":1667,"y1":180e-5,"y2":0},{"p":"P","w":1600,"y1":280e-5,"y2":0}]
},
"concat":[
{"width":192,"height":114,"title":{"text":"A"},
 "layer":[
 {"data":{"name":"a"},"mark":{"type":"line","clip":true,"strokeWidth":2,"color":"black"},
  "encoding":{"x":{"field":"w","type":"quantitative","scale":{"domain":[1900,1500],"nice":false},"axis":{"values":[1900,1800,1700,1600,1500],"tickCount":10,"format":"d","title":"Wavenumber, cm⁻¹"}},
  "y":{"field":"v","type":"quantitative","scale":{"domain":[-0.002,0.2],"nice":false,"zero":false},"axis":{"values":[0,0.05,0.1,0.15,0.2],"tickCount":10,"format":".2f","title":"Absorbance"}}}},
 {"data":{"name":"d"},"transform":[{"filter":"datum.p=='A'"}],"mark":{"type":"rule","color":"black","strokeWidth":2,"strokeDash":[7,5]},
  "encoding":{"x":{"field":"w","type":"quantitative"},"y":{"field":"y1","type":"quantitative"},"y2":{"field":"y2"}}}]},
{"width":192,"height":114,"title":{"text":"B"},
 "layer":[
 {"data":{"name":"b"},"transform":[{"fold":["19","24","30","47","64","77","90"],"as":["g","v"]}],"mark":{"type":"line","clip":true,"strokeWidth":1.8},
  "encoding":{"x":{"field":"w","type":"quantitative","scale":{"domain":[1900,1500],"nice":false},"axis":{"values":[1900,1800,1700,1600,1500],"tickCount":10,"format":"d","title":"Wavenumber, cm⁻¹"}},
  "y":{"field":"v","type":"quantitative","scale":{"domain":[-0.0001,0.0025],"nice":false,"zero":false},"axis":{"values":[0,0.0005,0.001,0.0015,0.002,0.0025],"tickCount":10,"format":".4f","title":null}},
  "color":{"field":"g","type":"nominal","scale":{"domain":["19","24","30","47","64","77","90"],"range":["#000000","#ff0000","#00dd00","#0000ff","#ff00ff","#ff8c00","#9b30ff"]},
   "legend":{"title":["Legend B","Kappa number:"],"orient":"none","legendX":1029,"legendY":-4,"titleFontSize":25,"titleLineHeight":26,"titlePadding":3,"labelFontSize":23,"symbolType":"stroke","symbolOffset":0,"symbolSize":441,"rowPadding":0,"labelOffset":7}}}},
 {"data":{"name":"d"},"transform":[{"filter":"datum.p=='B'"}],"mark":{"type":"rule","color":"#333333","strokeWidth":2,"strokeDash":[7,5]},
  "encoding":{"x":{"field":"w","type":"quantitative"},"y":{"field":"y1","type":"quantitative"},"y2":{"field":"y2"}}},
 {"data":{"values":[{"t":"UNAGED"}]},"mark":{"type":"text","align":"left","baseline":"alphabetic","fontSize":17,"fontWeight":"bold","font":"Liberation Sans","color":"black"},
  "encoding":{"x":{"datum":1810,"type":"quantitative"},"y":{"datum":0.00182,"type":"quantitative"},"text":{"field":"t"}}}]},
{"width":192,"height":114,"title":{"text":"C"},
 "layer":[
 {"data":{"name":"s"},"transform":[{"filter":"datum.p=='C'"},{"fold":["0","48","90"],"as":["g","v"]}],"mark":{"type":"line","clip":true,"strokeWidth":1.8},
  "encoding":{"x":{"field":"w","type":"quantitative","scale":{"domain":[1900,1500],"nice":false},"axis":{"values":[1900,1800,1700,1600,1500],"tickCount":10,"format":"d","title":"Wavenumber, cm⁻¹"}},
  "y":{"field":"v","type":"quantitative","scale":{"domain":[-6e-5,75e-5],"nice":false,"zero":false},"axis":{"values":[0,25e-5,50e-5,75e-5],"tickCount":10,"format":".5f","title":"A\u209b\u209cd"}},
  "stroke":{"field":"g","type":"nominal","title":["Legend C-P","Ageing time","(days):"],"scale":{"domain":["0","48","90"],"range":["#ff0000","#9b30ff","#000000"]}}}},
 {"data":{"name":"d"},"transform":[{"filter":"datum.p=='C'"}],"mark":{"type":"rule","color":"black","strokeWidth":2,"strokeDash":[7,5]},
  "encoding":{"x":{"field":"w","type":"quantitative"},"y":{"field":"y1","type":"quantitative"},"y2":{"field":"y2"}}},
 {"data":{"values":[{"t":"19/DRY"}]},"mark":{"type":"text","align":"left","baseline":"alphabetic","fontSize":17,"fontWeight":"bold","font":"Liberation Sans","color":"black"},
  "encoding":{"x":{"datum":1831,"type":"quantitative"},"y":{"datum":58.7e-5,"type":"quantitative"},"text":{"field":"t"}}}]},
{"width":192,"height":114,"title":{"text":"D"},
 "layer":[
 {"data":{"name":"s"},"transform":[{"filter":"datum.p=='D'"},{"fold":["0","48","90"],"as":["g","v"]}],"mark":{"type":"line","clip":true,"strokeWidth":1.8},
  "encoding":{"x":{"field":"w","type":"quantitative","scale":{"domain":[1900,1500],"nice":false},"axis":{"values":[1900,1800,1700,1600,1500],"tickCount":10,"format":"d","title":"Wavenumber, cm⁻¹"}},
  "y":{"field":"v","type":"quantitative","scale":{"domain":[-5e-5,100e-5],"nice":false,"zero":false},"axis":{"values":[0,25e-5,50e-5,75e-5,100e-5],"tickCount":10,"format":".5f","title":"A\u209b\u209cd"}},
  "stroke":{"field":"g","type":"nominal","title":["Legend C-P","Ageing time","(days):"],"scale":{"domain":["0","48","90"],"range":["#ff0000","#9b30ff","#000000"]}}}},
 {"data":{"name":"d"},"transform":[{"filter":"datum.p=='D'"}],"mark":{"type":"rule","color":"black","strokeWidth":2,"strokeDash":[7,5]},
  "encoding":{"x":{"field":"w","type":"quantitative"},"y":{"field":"y1","type":"quantitative"},"y2":{"field":"y2"}}},
 {"data":{"values":[{"t":"19/WET"}]},"mark":{"type":"text","align":"left","baseline":"alphabetic","fontSize":17,"fontWeight":"bold","font":"Liberation Sans","color":"black"},
  "encoding":{"x":{"datum":1819,"type":"quantitative"},"y":{"datum":78.8e-5,"type":"quantitative"},"text":{"field":"t"}}}]},
{"width":192,"height":114,"title":{"text":"E"},
 "layer":[
 {"data":{"name":"s"},"transform":[{"filter":"datum.p=='E'"},{"fold":["0","48","90"],"as":["g","v"]}],"mark":{"type":"line","clip":true,"strokeWidth":1.8},
  "encoding":{"x":{"field":"w","type":"quantitative","scale":{"domain":[1900,1500],"nice":false},"axis":{"values":[1900,1800,1700,1600,1500],"tickCount":10,"format":"d","title":"Wavenumber, cm⁻¹"}},
  "y":{"field":"v","type":"quantitative","scale":{"domain":[0,100e-5],"nice":false,"zero":false},"axis":{"values":[0,25e-5,50e-5,75e-5,100e-5],"tickCount":10,"format":".5f","title":"A\u209b\u209cd"}},
  "stroke":{"field":"g","type":"nominal","title":["Legend C-P","Ageing time","(days):"],"scale":{"domain":["0","48","90"],"range":["#ff0000","#9b30ff","#000000"]}}}},
 {"data":{"name":"d"},"transform":[{"filter":"datum.p=='E'"}],"mark":{"type":"rule","color":"black","strokeWidth":2,"strokeDash":[7,5]},
  "encoding":{"x":{"field":"w","type":"quantitative"},"y":{"field":"y1","type":"quantitative"},"y2":{"field":"y2"}}},
 {"data":{"values":[{"t":"24/DRY"}]},"mark":{"type":"text","align":"left","baseline":"alphabetic","fontSize":17,"fontWeight":"bold","font":"Liberation Sans","color":"black"},
  "encoding":{"x":{"datum":1823,"type":"quantitative"},"y":{"datum":79.8e-5,"type":"quantitative"},"text":{"field":"t"}}}]},
{"width":192,"height":114,"title":{"text":"F"},
 "layer":[
 {"data":{"name":"s"},"transform":[{"filter":"datum.p=='F'"},{"fold":["0","48","90"],"as":["g","v"]}],"mark":{"type":"line","clip":true,"strokeWidth":1.8},
  "encoding":{"x":{"field":"w","type":"quantitative","scale":{"domain":[1900,1500],"nice":false},"axis":{"values":[1900,1800,1700,1600,1500],"tickCount":10,"format":"d","title":"Wavenumber, cm⁻¹"}},
  "y":{"field":"v","type":"quantitative","scale":{"domain":[0,150e-5],"nice":false,"zero":false},"axis":{"values":[0,50e-5,100e-5,150e-5],"tickCount":10,"format":".4f","title":"A\u209b\u209cd"}},
  "stroke":{"field":"g","type":"nominal","title":["Legend C-P","Ageing time","(days):"],"scale":{"domain":["0","48","90"],"range":["#ff0000","#9b30ff","#000000"]}}}},
 {"data":{"name":"d"},"transform":[{"filter":"datum.p=='F'"}],"mark":{"type":"rule","color":"black","strokeWidth":2,"strokeDash":[7,5]},
  "encoding":{"x":{"field":"w","type":"quantitative"},"y":{"field":"y1","type":"quantitative"},"y2":{"field":"y2"}}},
 {"data":{"values":[{"t":"24/WET"}]},"mark":{"type":"text","align":"left","baseline":"alphabetic","fontSize":17,"fontWeight":"bold","font":"Liberation Sans","color":"black"},
  "encoding":{"x":{"datum":1829,"type":"quantitative"},"y":{"datum":119.7e-5,"type":"quantitative"},"text":{"field":"t"}}}]},
{"width":192,"height":114,"title":{"text":"G"},
 "layer":[
 {"data":{"name":"s"},"transform":[{"filter":"datum.p=='G'"},{"fold":["0","48","90"],"as":["g","v"]}],"mark":{"type":"line","clip":true,"strokeWidth":1.8},
  "encoding":{"x":{"field":"w","type":"quantitative","scale":{"domain":[1900,1500],"nice":false},"axis":{"values":[1900,1800,1700,1600,1500],"tickCount":10,"format":"d","title":"Wavenumber, cm⁻¹"}},
  "y":{"field":"v","type":"quantitative","scale":{"domain":[0,150e-5],"nice":false,"zero":false},"axis":{"values":[0,50e-5,100e-5,150e-5],"tickCount":10,"format":".4f","title":"A\u209b\u209cd"}},
  "stroke":{"field":"g","type":"nominal","title":["Legend C-P","Ageing time","(days):"],"scale":{"domain":["0","48","90"],"range":["#ff0000","#9b30ff","#000000"]}}}},
 {"data":{"name":"d"},"transform":[{"filter":"datum.p=='G'"}],"mark":{"type":"rule","color":"black","strokeWidth":2,"strokeDash":[7,5]},
  "encoding":{"x":{"field":"w","type":"quantitative"},"y":{"field":"y1","type":"quantitative"},"y2":{"field":"y2"}}},
 {"data":{"values":[{"t":"30/DRY"}]},"mark":{"type":"text","align":"left","baseline":"alphabetic","fontSize":17,"fontWeight":"bold","font":"Liberation Sans","color":"black"},
  "encoding":{"x":{"datum":1825,"type":"quantitative"},"y":{"datum":119.7e-5,"type":"quantitative"},"text":{"field":"t"}}}]},
{"width":192,"height":114,"title":{"text":"H"},
 "layer":[
 {"data":{"name":"s"},"transform":[{"filter":"datum.p=='H'"},{"fold":["0","48","90"],"as":["g","v"]}],"mark":{"type":"line","clip":true,"strokeWidth":1.8},
  "encoding":{"x":{"field":"w","type":"quantitative","scale":{"domain":[1900,1500],"nice":false},"axis":{"values":[1900,1800,1700,1600,1500],"tickCount":10,"format":"d","title":"Wavenumber, cm⁻¹"}},
  "y":{"field":"v","type":"quantitative","scale":{"domain":[0,150e-5],"nice":false,"zero":false},"axis":{"values":[0,50e-5,100e-5,150e-5],"tickCount":10,"format":".4f","title":"A\u209b\u209cd"}},
  "stroke":{"field":"g","type":"nominal","title":["Legend C-P","Ageing time","(days):"],"scale":{"domain":["0","48","90"],"range":["#ff0000","#9b30ff","#000000"]}}}},
 {"data":{"name":"d"},"transform":[{"filter":"datum.p=='H'"}],"mark":{"type":"rule","color":"black","strokeWidth":2,"strokeDash":[7,5]},
  "encoding":{"x":{"field":"w","type":"quantitative"},"y":{"field":"y1","type":"quantitative"},"y2":{"field":"y2"}}},
 {"data":{"values":[{"t":"30/WET"}]},"mark":{"type":"text","align":"left","baseline":"alphabetic","fontSize":17,"fontWeight":"bold","font":"Liberation Sans","color":"black"},
  "encoding":{"x":{"datum":1823,"type":"quantitative"},"y":{"datum":119.7e-5,"type":"quantitative"},"text":{"field":"t"}}}]},
{"width":192,"height":114,"title":{"text":"I"},
 "layer":[
 {"data":{"name":"s"},"transform":[{"filter":"datum.p=='I'"},{"fold":["0","48","90"],"as":["g","v"]}],"mark":{"type":"line","clip":true,"strokeWidth":1.8},
  "encoding":{"x":{"field":"w","type":"quantitative","scale":{"domain":[1900,1500],"nice":false},"axis":{"values":[1900,1800,1700,1600,1500],"tickCount":10,"format":"d","title":"Wavenumber, cm⁻¹"}},
  "y":{"field":"v","type":"quantitative","scale":{"domain":[-10e-5,200e-5],"nice":false,"zero":false},"axis":{"values":[0,50e-5,100e-5,150e-5,200e-5],"tickCount":10,"format":".4f","title":"A\u209b\u209cd"}},
  "stroke":{"field":"g","type":"nominal","title":["Legend C-P","Ageing time","(days):"],"scale":{"domain":["0","48","90"],"range":["#ff0000","#9b30ff","#000000"]}}}},
 {"data":{"name":"d"},"transform":[{"filter":"datum.p=='I'"}],"mark":{"type":"rule","color":"black","strokeWidth":2,"strokeDash":[7,5]},
  "encoding":{"x":{"field":"w","type":"quantitative"},"y":{"field":"y1","type":"quantitative"},"y2":{"field":"y2"}}},
 {"data":{"values":[{"t":"47/DRY"}]},"mark":{"type":"text","align":"left","baseline":"alphabetic","fontSize":17,"fontWeight":"bold","font":"Liberation Sans","color":"black"},
  "encoding":{"x":{"datum":1829,"type":"quantitative"},"y":{"datum":157.6e-5,"type":"quantitative"},"text":{"field":"t"}}}]},
{"width":192,"height":114,"title":{"text":"J"},
 "layer":[
 {"data":{"name":"s"},"transform":[{"filter":"datum.p=='J'"},{"fold":["0","48","90"],"as":["g","v"]}],"mark":{"type":"line","clip":true,"strokeWidth":1.8},
  "encoding":{"x":{"field":"w","type":"quantitative","scale":{"domain":[1900,1500],"nice":false},"axis":{"values":[1900,1800,1700,1600,1500],"tickCount":10,"format":"d","title":"Wavenumber, cm⁻¹"}},
  "y":{"field":"v","type":"quantitative","scale":{"domain":[-10e-5,200e-5],"nice":false,"zero":false},"axis":{"values":[0,50e-5,100e-5,150e-5,200e-5],"tickCount":10,"format":".4f","title":"A\u209b\u209cd"}},
  "stroke":{"field":"g","type":"nominal","title":["Legend C-P","Ageing time","(days):"],"scale":{"domain":["0","48","90"],"range":["#ff0000","#9b30ff","#000000"]}}}},
 {"data":{"name":"d"},"transform":[{"filter":"datum.p=='J'"}],"mark":{"type":"rule","color":"black","strokeWidth":2,"strokeDash":[7,5]},
  "encoding":{"x":{"field":"w","type":"quantitative"},"y":{"field":"y1","type":"quantitative"},"y2":{"field":"y2"}}},
 {"data":{"values":[{"t":"47/WET"}]},"mark":{"type":"text","align":"left","baseline":"alphabetic","fontSize":17,"fontWeight":"bold","font":"Liberation Sans","color":"black"},
  "encoding":{"x":{"datum":1821,"type":"quantitative"},"y":{"datum":157.6e-5,"type":"quantitative"},"text":{"field":"t"}}}]},
{"width":192,"height":114,"title":{"text":"K"},
 "layer":[
 {"data":{"name":"s"},"transform":[{"filter":"datum.p=='K'"},{"fold":["0","48","90"],"as":["g","v"]}],"mark":{"type":"line","clip":true,"strokeWidth":1.8},
  "encoding":{"x":{"field":"w","type":"quantitative","scale":{"domain":[1900,1500],"nice":false},"axis":{"values":[1900,1800,1700,1600,1500],"tickCount":10,"format":"d","title":"Wavenumber, cm⁻¹"}},
  "y":{"field":"v","type":"quantitative","scale":{"domain":[0,200e-5],"nice":false,"zero":false},"axis":{"values":[0,50e-5,100e-5,150e-5,200e-5],"tickCount":10,"format":".4f","title":"A\u209b\u209cd"}},
  "stroke":{"field":"g","type":"nominal","title":["Legend C-P","Ageing time","(days):"],"scale":{"domain":["0","48","90"],"range":["#ff0000","#9b30ff","#000000"]}}}},
 {"data":{"name":"d"},"transform":[{"filter":"datum.p=='K'"}],"mark":{"type":"rule","color":"black","strokeWidth":2,"strokeDash":[7,5]},
  "encoding":{"x":{"field":"w","type":"quantitative"},"y":{"field":"y1","type":"quantitative"},"y2":{"field":"y2"}}},
 {"data":{"values":[{"t":"64/DRY"}]},"mark":{"type":"text","align":"left","baseline":"alphabetic","fontSize":17,"fontWeight":"bold","font":"Liberation Sans","color":"black"},
  "encoding":{"x":{"datum":1815,"type":"quantitative"},"y":{"datum":159.6e-5,"type":"quantitative"},"text":{"field":"t"}}}]},
{"width":192,"height":114,"title":{"text":"L"},
 "layer":[
 {"data":{"name":"s"},"transform":[{"filter":"datum.p=='L'"},{"fold":["0","48","90"],"as":["g","v"]}],"mark":{"type":"line","clip":true,"strokeWidth":1.8},
  "encoding":{"x":{"field":"w","type":"quantitative","scale":{"domain":[1900,1500],"nice":false},"axis":{"values":[1900,1800,1700,1600,1500],"tickCount":10,"format":"d","title":"Wavenumber, cm⁻¹"}},
  "y":{"field":"v","type":"quantitative","scale":{"domain":[-12e-5,250e-5],"nice":false,"zero":false},"axis":{"values":[0,50e-5,100e-5,150e-5,200e-5,250e-5],"tickCount":10,"format":".4f","title":"A\u209b\u209cd"}},
  "stroke":{"field":"g","type":"nominal","title":["Legend C-P","Ageing time","(days):"],"scale":{"domain":["0","48","90"],"range":["#ff0000","#9b30ff","#000000"]}}}},
 {"data":{"name":"d"},"transform":[{"filter":"datum.p=='L'"}],"mark":{"type":"rule","color":"black","strokeWidth":2,"strokeDash":[7,5]},
  "encoding":{"x":{"field":"w","type":"quantitative"},"y":{"field":"y1","type":"quantitative"},"y2":{"field":"y2"}}},
 {"data":{"values":[{"t":"64/WET"}]},"mark":{"type":"text","align":"left","baseline":"alphabetic","fontSize":17,"fontWeight":"bold","font":"Liberation Sans","color":"black"},
  "encoding":{"x":{"datum":1817,"type":"quantitative"},"y":{"datum":197.1e-5,"type":"quantitative"},"text":{"field":"t"}}}]},
{"width":192,"height":114,"title":{"text":"M"},
 "layer":[
 {"data":{"name":"s"},"transform":[{"filter":"datum.p=='M'"},{"fold":["0","48","90"],"as":["g","v"]}],"mark":{"type":"line","clip":true,"strokeWidth":1.8},
  "encoding":{"x":{"field":"w","type":"quantitative","scale":{"domain":[1900,1500],"nice":false},"axis":{"values":[1900,1800,1700,1600,1500],"tickCount":10,"format":"d","title":"Wavenumber, cm⁻¹"}},
  "y":{"field":"v","type":"quantitative","scale":{"domain":[-7e-5,250e-5],"nice":false,"zero":false},"axis":{"values":[0,50e-5,100e-5,150e-5,200e-5,250e-5],"tickCount":10,"format":".4f","title":"A\u209b\u209cd"}},
  "stroke":{"field":"g","type":"nominal","title":["Legend C-P","Ageing time","(days):"],"scale":{"domain":["0","48","90"],"range":["#ff0000","#9b30ff","#000000"]}}}},
 {"data":{"name":"d"},"transform":[{"filter":"datum.p=='M'"}],"mark":{"type":"rule","color":"black","strokeWidth":2,"strokeDash":[7,5]},
  "encoding":{"x":{"field":"w","type":"quantitative"},"y":{"field":"y1","type":"quantitative"},"y2":{"field":"y2"}}},
 {"data":{"values":[{"t":"77/DRY"}]},"mark":{"type":"text","align":"left","baseline":"alphabetic","fontSize":17,"fontWeight":"bold","font":"Liberation Sans","color":"black"},
  "encoding":{"x":{"datum":1827,"type":"quantitative"},"y":{"datum":198.1e-5,"type":"quantitative"},"text":{"field":"t"}}}]},
{"width":192,"height":114,"title":{"text":"N"},
 "layer":[
 {"data":{"name":"s"},"transform":[{"filter":"datum.p=='N'"},{"fold":["0","48","90"],"as":["g","v"]}],"mark":{"type":"line","clip":true,"strokeWidth":1.8},
  "encoding":{"x":{"field":"w","type":"quantitative","scale":{"domain":[1900,1500],"nice":false},"axis":{"values":[1900,1800,1700,1600,1500],"tickCount":10,"format":"d","title":"Wavenumber, cm⁻¹"}},
  "y":{"field":"v","type":"quantitative","scale":{"domain":[-7e-5,250e-5],"nice":false,"zero":false},"axis":{"values":[0,50e-5,100e-5,150e-5,200e-5,250e-5],"tickCount":10,"format":".4f","title":"A\u209b\u209cd"}},
  "stroke":{"field":"g","type":"nominal","title":["Legend C-P","Ageing time","(days):"],"scale":{"domain":["0","48","90"],"range":["#ff0000","#9b30ff","#000000"]}}}},
 {"data":{"name":"d"},"transform":[{"filter":"datum.p=='N'"}],"mark":{"type":"rule","color":"black","strokeWidth":2,"strokeDash":[7,5]},
  "encoding":{"x":{"field":"w","type":"quantitative"},"y":{"field":"y1","type":"quantitative"},"y2":{"field":"y2"}}},
 {"data":{"values":[{"t":"77/WET"}]},"mark":{"type":"text","align":"left","baseline":"alphabetic","fontSize":17,"fontWeight":"bold","font":"Liberation Sans","color":"black"},
  "encoding":{"x":{"datum":1817,"type":"quantitative"},"y":{"datum":198.1e-5,"type":"quantitative"},"text":{"field":"t"}}}]},
{"width":192,"height":114,"title":{"text":"O"},
 "layer":[
 {"data":{"name":"s"},"transform":[{"filter":"datum.p=='O'"},{"fold":["0","48","90"],"as":["g","v"]}],"mark":{"type":"line","clip":true,"strokeWidth":1.8},
  "encoding":{"x":{"field":"w","type":"quantitative","scale":{"domain":[1900,1500],"nice":false},"axis":{"values":[1900,1800,1700,1600,1500],"tickCount":10,"format":"d","title":"Wavenumber, cm⁻¹"}},
  "y":{"field":"v","type":"quantitative","scale":{"domain":[-7e-5,250e-5],"nice":false,"zero":false},"axis":{"values":[0,50e-5,100e-5,150e-5,200e-5,250e-5],"tickCount":10,"format":".4f","title":"A\u209b\u209cd"}},
  "stroke":{"field":"g","type":"nominal","title":["Legend C-P","Ageing time","(days):"],"scale":{"domain":["0","48","90"],"range":["#ff0000","#9b30ff","#000000"]}}}},
 {"data":{"name":"d"},"transform":[{"filter":"datum.p=='O'"}],"mark":{"type":"rule","color":"black","strokeWidth":2,"strokeDash":[7,5]},
  "encoding":{"x":{"field":"w","type":"quantitative"},"y":{"field":"y1","type":"quantitative"},"y2":{"field":"y2"}}},
 {"data":{"values":[{"t":"90/DRY"}]},"mark":{"type":"text","align":"left","baseline":"alphabetic","fontSize":17,"fontWeight":"bold","font":"Liberation Sans","color":"black"},
  "encoding":{"x":{"datum":1821,"type":"quantitative"},"y":{"datum":198.1e-5,"type":"quantitative"},"text":{"field":"t"}}}]},
{"width":192,"height":114,"title":{"text":"P"},
 "layer":[
 {"data":{"name":"s"},"transform":[{"filter":"datum.p=='P'"},{"fold":["0","48","90"],"as":["g","v"]}],"mark":{"type":"line","clip":true,"strokeWidth":1.8},
  "encoding":{"x":{"field":"w","type":"quantitative","scale":{"domain":[1900,1500],"nice":false},"axis":{"values":[1900,1800,1700,1600,1500],"tickCount":10,"format":"d","title":"Wavenumber, cm⁻¹"}},
  "y":{"field":"v","type":"quantitative","scale":{"domain":[-7e-5,300e-5],"nice":false,"zero":false},"axis":{"values":[0,100e-5,200e-5,300e-5],"tickCount":10,"format":".3f","title":"A\u209b\u209cd"}},
  "stroke":{"field":"g","type":"nominal","title":["Legend C-P","Ageing time","(days):"],"scale":{"domain":["0","48","90"],"range":["#ff0000","#9b30ff","#000000"]}}}},
 {"data":{"name":"d"},"transform":[{"filter":"datum.p=='P'"}],"mark":{"type":"rule","color":"black","strokeWidth":2,"strokeDash":[7,5]},
  "encoding":{"x":{"field":"w","type":"quantitative"},"y":{"field":"y1","type":"quantitative"},"y2":{"field":"y2"}}},
 {"data":{"values":[{"t":"90/WET"}]},"mark":{"type":"text","align":"left","baseline":"alphabetic","fontSize":17,"fontWeight":"bold","font":"Liberation Sans","color":"black"},
  "encoding":{"x":{"datum":1833,"type":"quantitative"},"y":{"datum":238e-5,"type":"quantitative"},"text":{"field":"t"}}}]}
],
"config":{
 "font":"Liberation Sans",
 "view":{"stroke":"black","strokeWidth":2.5},
 "axis":{"domain":false,"grid":false,"labelFont":"Liberation Sans","labelFontWeight":"bold","labelFontSize":11,"labelColor":"black","tickColor":"black","tickWidth":2,"tickSize":3,"labelPadding":2,"titleFont":"Liberation Sans","titleFontWeight":"bold","titleColor":"black","labelFlush":false,"labelOverlap":false,"labelBound":false},
 "axisX":{"ticks":false,"labelPadding":5,"titleFontSize":14,"titlePadding":5},
 "axisY":{"titleFontSize":15,"titlePadding":4},
 "title":{"anchor":"start","frame":"group","font":"Liberation Sans","fontSize":29,"fontWeight":"bold","color":"black","offset":-37,"dx":6},
 "legend":{"orient":"none","legendX":1032,"legendY":264,"padding":0,"titleFont":"Liberation Sans","titleFontWeight":"bold","titleColor":"black","titleFontSize":23,"titleLineHeight":30,"titleLimit":400,"titlePadding":6,"labelFont":"Liberation Sans","labelFontWeight":"bold","labelColor":"black","labelFontSize":23,"symbolType":"M-3.5,0H3.5","symbolSize":441,"symbolOffset":25,"symbolStrokeWidth":1.5,"labelOffset":32,"rowPadding":5}
}
}
